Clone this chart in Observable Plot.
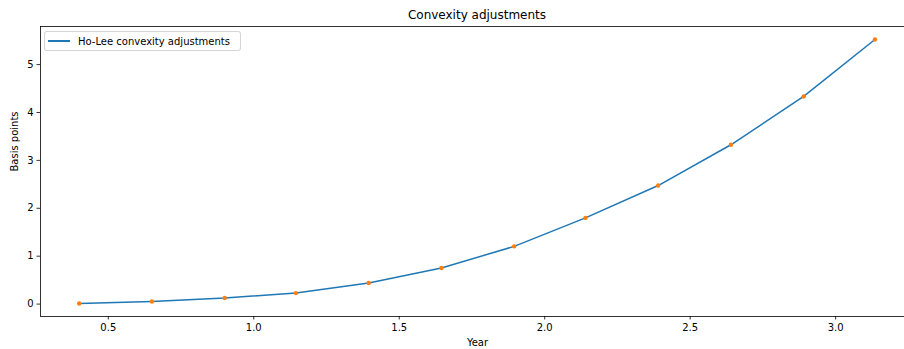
<!DOCTYPE html>
<html><head><meta charset="utf-8">
<script src="https://cdn.jsdelivr.net/npm/d3@7"></script>
<script src="https://cdn.jsdelivr.net/npm/@observablehq/plot@0.6"></script>
<style>
body{margin:0;background:#fff;overflow:hidden;font-family:"DejaVu Sans",sans-serif;}
#wrap{position:relative;width:904px;height:349px;overflow:hidden;background:#fff;}
#title{position:absolute;left:40px;width:874px;top:0;height:30px;line-height:30px;text-align:center;font-size:12px;color:#000;}
#legend{position:absolute;left:44px;top:31px;width:197px;height:20px;box-sizing:border-box;border:1px solid rgba(204,204,204,0.8);border-radius:3px;background:rgba(255,255,255,0.8);font-size:10px;color:#000;display:flex;align-items:center;}
#legend .sw{display:inline-block;width:22px;height:1.5px;background:#1f77b4;margin-left:3px;margin-right:8px;}
</style></head>
<body>
<div id="wrap">
  <div id="chart"></div>
  <div id="title"></div>
  <div id="legend"><span class="sw"></span><span id="legtext"></span></div>
</div>
<script>
const title = "Convexity adjustments";
const xLabel = "Year";
const yLabel = "Basis points";
const seriesName = "Ho-Lee convexity adjustments";
const years = [0.40, 0.65, 0.90, 1.145, 1.395, 1.645, 1.895, 2.14, 2.39, 2.64, 2.89, 3.135];
const basisPoints = [0.013, 0.054, 0.126, 0.230, 0.439, 0.753, 1.205, 1.799, 2.475, 3.326, 4.335, 5.523];
const xTicks = [0.5, 1.0, 1.5, 2.0, 2.5, 3.0];
const yTicks = [0, 1, 2, 3, 4, 5];

const data = years.map((t, i) => ({t, v: basisPoints[i]}));

document.getElementById("title").textContent = title;
document.getElementById("legtext").textContent = seriesName;

const chart = Plot.plot({
  width: 904, height: 349,
  marginLeft: 40, marginRight: -10, marginTop: 26, marginBottom: 33,
  x: {domain: [0.267, 3.271]},
  y: {domain: [-0.259, 5.795]},
  style: {fontFamily: "DejaVu Sans", fontSize: "10px", color: "black", background: "white"},
  marks: [
    Plot.frame({stroke: "black", strokeWidth: 0.8}),
    Plot.axisX({ticks: xTicks, tickFormat: d3.format(".1f"), tickSize: 3.5, tickPadding: 3.5, strokeWidth: 0.8, label: null}),
    Plot.axisY({ticks: yTicks, tickFormat: d3.format("d"), tickSize: 3.5, tickPadding: 3.5, strokeWidth: 0.8, label: null}),
    Plot.text([xLabel], {text: d => d, frameAnchor: "bottom", dy: 26, lineAnchor: "middle"}),
    Plot.text([yLabel], {text: d => d, frameAnchor: "left", dx: -26, rotate: -90}),
    Plot.line(data, {x: "t", y: "v", stroke: "#1f77b4", strokeWidth: 1.5}),
    Plot.dot(data, {x: "t", y: "v", r: 2.2, fill: "#ff7f0e"})
  ]
});
document.getElementById("chart").appendChild(chart);
</script>
</body></html>
